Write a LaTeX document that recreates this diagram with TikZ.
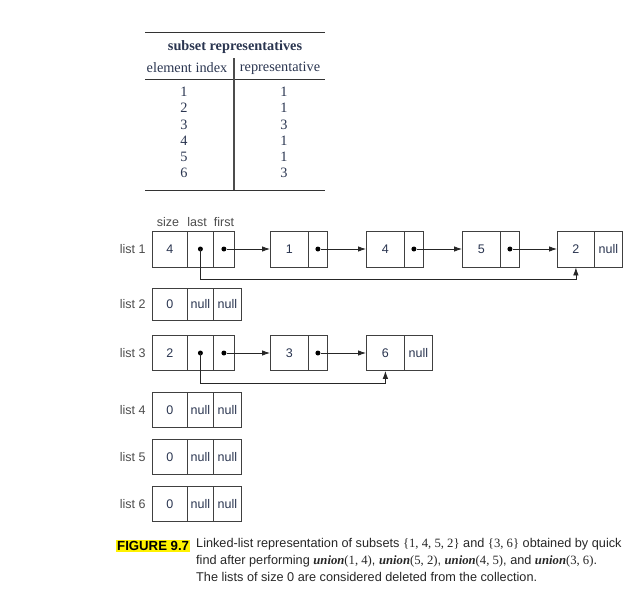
\documentclass[tikz,border=0pt]{standalone}
\usepackage{fontspec}
\setmainfont{Liberation Serif}
\setsansfont{Liberation Sans}
\usetikzlibrary{arrows.meta}
\definecolor{txt}{HTML}{2A3550}
\tikzset{
  cell/.style={draw=black!75,line width=0.8pt,inner sep=0pt,anchor=west,font=\sffamily\fontsize{12.5}{13}\selectfont,text=txt},
  lbl/.style={font=\sffamily\fontsize{12.5}{13}\selectfont,text=black!70,anchor=east},
  tab/.style={font=\rmfamily\fontsize{14.3}{15}\selectfont,text=txt},
  ptr/.style={-{Latex[length=8pt,width=5.5pt]},line width=0.8pt,black!85},
  dot/.style={circle,fill=black,inner sep=0pt,minimum size=5pt},
  rule/.style={line width=1pt,black!80}
}
\begin{document}
\begin{tikzpicture}[x=1pt,y=-1pt]
\useasboundingbox (0,0) rectangle (642,613);
% table
\draw[rule] (145,32) -- (325,32);
\node[tab,font=\rmfamily\bfseries\fontsize{14.3}{15}\selectfont] (th) at (235,47) {subset representatives};
\node[tab] (h1) at (187,68) {element index};
\node[tab] (h2) at (280,68) {representative};
\draw[rule] (145,79) -- (325,79);
\draw[rule] (145,190) -- (325,190);
\draw[line width=1.4pt,black!70] (234,58) -- (234,190);
\foreach \i/\r [count=\k] in {1/1,2/1,3/3,4/1,5/1,6/3}{
  \node[tab] (e\k) at (184,{92+(\k-1)*16.2}) {\i};
  \node[tab] (r\k) at (284,{92+(\k-1)*16.2}) {\r};
}
% column headings
\node[lbl,anchor=center] (hs) at (168,222) {size};
\node[lbl,anchor=center] (hl) at (197,222) {last};
\node[lbl,anchor=center] (hf) at (224,222) {first};
% list rows
\newcommand{\hdr}[5]{% name, y, height, size, last/first
  \node[lbl] (#1lab) at (149,#2) {list #4};
  \node[cell,minimum width=35pt,minimum height=#3pt] (#1s) at (152,#2) {#5};
}
% list 1
\hdr{a}{249}{36}{1}{4}
\node[cell,minimum width=26pt,minimum height=36pt] (al) at (187,249) {};
\node[cell,minimum width=21pt,minimum height=36pt] (af) at (213,249) {};
\foreach \n/\x/\v in {a1/270/1,a4/366/4,a5/462/5}{
  \node[cell,minimum width=38pt,minimum height=36pt] (\n v) at (\x,249) {\v};
  \node[cell,minimum width=19pt,minimum height=36pt] (\n p) at (\x+38,249) {};
}
\node[cell,minimum width=37pt,minimum height=36pt] (a2v) at (557,249) {2};
\node[cell,minimum width=28pt,minimum height=36pt] (a2p) at (594,249) {null};
\node[dot] (ald) at (al.center) {};
\node[dot] (afd) at (af.center) {};
\node[dot] (a1d) at (a1p.center) {};
\node[dot] (a4d) at (a4p.center) {};
\node[dot] (a5d) at (a5p.center) {};
\draw[ptr] (afd) -- (a1v.west);
\draw[ptr] (a1d) -- (a4v.west);
\draw[ptr] (a4d) -- (a5v.west);
\draw[ptr] (a5d) -- (a2v.west);
\draw[ptr] (ald.center) |- (a2v.south |- 0,279) -- (a2v.south);
% list 2
\hdr{b}{304}{32}{2}{0}
\node[cell,minimum width=26pt,minimum height=32pt] (bl) at (187,304) {null};
\node[cell,minimum width=28pt,minimum height=32pt] (bf) at (213,304) {null};
% list 3
\hdr{c}{353}{35}{3}{2}
\node[cell,minimum width=26pt,minimum height=35pt] (cl) at (187,353) {};
\node[cell,minimum width=21pt,minimum height=35pt] (cf) at (213,353) {};
\node[cell,minimum width=38pt,minimum height=35pt] (c3v) at (270,353) {3};
\node[cell,minimum width=19pt,minimum height=35pt] (c3p) at (308,353) {};
\node[cell,minimum width=38pt,minimum height=35pt] (c6v) at (366,353) {6};
\node[cell,minimum width=28pt,minimum height=35pt] (c6p) at (404,353) {null};
\node[dot] (cld) at (cl.center) {};
\node[dot] (cfd) at (cf.center) {};
\node[dot] (c3d) at (c3p.center) {};
\draw[ptr] (cfd) -- (c3v.west);
\draw[ptr] (c3d) -- (c6v.west);
\draw[ptr] (cld.center) |- (c6v.south |- 0,383) -- (c6v.south);
% lists 4-6
\foreach \n/\y/\k in {d/410/4,e/457/5,f/504/6}{
  \hdr{\n}{\y}{35}{\k}{0}
  \node[cell,minimum width=26pt,minimum height=35pt] (\n l) at (187,\y) {null};
  \node[cell,minimum width=28pt,minimum height=35pt] (\n f) at (213,\y) {null};
}
% caption
\node[fill=yellow,inner sep=1pt,anchor=west,font=\sffamily\bfseries\fontsize{13.2}{14}\selectfont] (fig) at (116,546) {FIGURE 9.7};
\node[anchor=north west,inner sep=0pt,align=left,text=black!85,font=\sffamily\fontsize{12.7}{17}\selectfont] (cap) at (196,538)
{Linked-list representation of subsets {\rmfamily\{1, 4, 5, 2\}} and {\rmfamily\{3, 6\}} obtained by quick\\
find after performing {\rmfamily\bfseries\itshape union}{\rmfamily(1, 4)}, {\rmfamily\bfseries\itshape union}{\rmfamily(5, 2)}, {\rmfamily\bfseries\itshape union}{\rmfamily(4, 5)}, and {\rmfamily\bfseries\itshape union}{\rmfamily(3, 6)}.\\
The lists of size 0 are considered deleted from the collection.};
\end{tikzpicture}
\end{document}
